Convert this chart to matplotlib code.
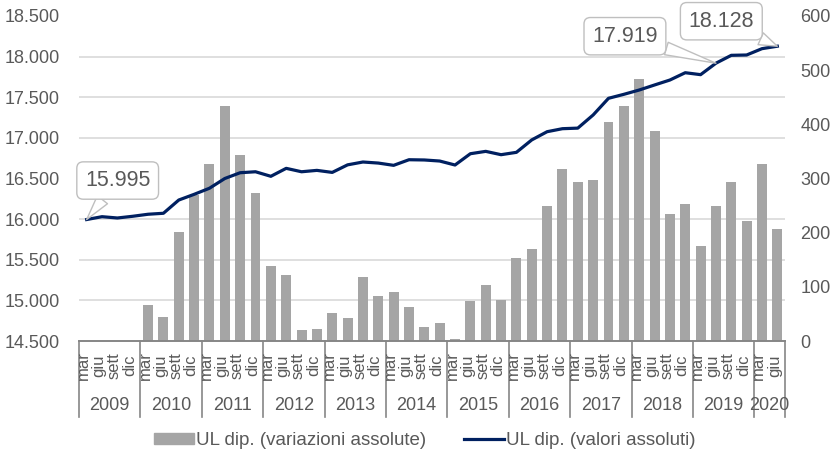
#UL dip. - variazioni assolute (barre) e valori assoluti (linea), trimestrale 2009-2020
import matplotlib
matplotlib.use('Agg')
import matplotlib.pyplot as plt
import matplotlib.transforms as mtransforms
from matplotlib.patches import Patch
from matplotlib.lines import Line2D
import numpy as np

plt.rcParams['font.family'] = ['Liberation Sans', 'DejaVu Sans']

years = ['2009', '2010', '2011', '2012', '2013', '2014', '2015', '2016', '2017', '2018', '2019', '2020']
quarters = ['mar', 'giu', 'sett', 'dic']
n_quarters_last = 2

variazioni = [np.nan, np.nan, np.nan, np.nan,
              66, 45, 201, 270,
              326, 434, 343, 274,
              138, 121, 20, 22,
              51, 42, 118, 83,
              90, 63, 25, 33,
              4, 73, 103, 76,
              153, 170, 250, 317,
              294, 297, 404, 434,
              484, 388, 235, 252,
              176, 249, 293, 222,
              327, 207]

valori = [15995, 16030, 16014, 16035,
          16060, 16072, 16235, 16305,
          16380, 16500, 16571, 16583,
          16527, 16625, 16583, 16600,
          16575, 16668, 16703, 16690,
          16662, 16731, 16728, 16715,
          16666, 16805, 16834, 16793,
          16822, 16975, 17076, 17113,
          17120, 17282, 17487, 17536,
          17589, 17651, 17712, 17802,
          17778, 17919, 18016, 18020,
          18098, 18128]

labelled = [0, 41, 45]

grey_txt = '#595959'
bar_col = '#a5a5a5'
line_col = '#002060'
fs = 13

cat_labels = []
for y in years[:-1]:
    cat_labels += quarters
cat_labels += quarters[:n_quarters_last]
x = np.arange(len(cat_labels))

fig = plt.figure(figsize=(8.31, 4.57), dpi=100)
ax1 = fig.add_axes([79/831, 116/457, 706/831, 325/457])
ax2 = ax1.twinx()

# bars (right axis)
ax1.bar(x, variazioni, width=0.65, color=bar_col, zorder=2)
ax1.set_ylim(0, 600)
ax1.set_yticks(np.arange(0, 601, 100))
ax1.set_yticks(np.arange(0, 601, 75), minor=True)
ax1.yaxis.tick_right()
ax1.grid(True, which='minor', axis='y', color='#d9d9d9', linewidth=1.2, zorder=0)
ax1.tick_params(axis='y', which='both', length=0, labelsize=fs, labelcolor=grey_txt, pad=11)
ax1.set_xlim(-0.5, len(x) - 0.5)
ax1.set_xticks([])

# line (left axis)
ax2.plot(x, valori, color=line_col, linewidth=2.3, zorder=3)
ax2.set_ylim(14500, 18500)
ax2.set_yticks(np.arange(14500, 18501, 500))
ax2.set_yticklabels([f'{v:,.0f}'.replace(',', '.') for v in np.arange(14500, 18501, 500)])
ax2.yaxis.tick_left()
ax2.tick_params(axis='y', length=0, labelsize=fs, labelcolor=grey_txt, pad=14)

for ax in (ax1, ax2):
    for s in ['top', 'left', 'right']:
        ax.spines[s].set_visible(False)
    ax.spines['bottom'].set_color('#868686')
    ax.spines['bottom'].set_linewidth(1.2)

# callouts
offsets = {0: (31, 39), 41: (-91, 27), 45: (-56, 25)}
for i in labelled:
    ax2.annotate(f'{valori[i]:,.0f}'.replace(',', '.'), xy=(x[i], valori[i]),
                 xytext=offsets[i], textcoords='offset pixels',
                 ha='center', va='center', fontsize=15.5, color=grey_txt,
                 bbox=dict(boxstyle='round,pad=0.38,rounding_size=0.3', fc='white', ec='#bfbfbf', lw=1),
                 arrowprops=dict(arrowstyle='wedge,tail_width=0.6,shrink_factor=0.5',
                                 fc='white', ec='#bfbfbf', lw=1, shrinkA=0, shrinkB=0),
                 zorder=5)

# multi-level category axis
trans = mtransforms.blended_transform_factory(ax1.transData, ax1.transAxes)
for i, lab in enumerate(cat_labels):
    ax1.text(x[i] - 0.2, -0.075, lab, transform=trans, rotation=90, ha='center', va='center',
             fontsize=12, color=grey_txt)

start = 0
for k, yr in enumerate(years):
    n = 4 if k < len(years) - 1 else n_quarters_last
    ax1.plot([start - 0.5, start - 0.5], [0, -0.235], transform=trans, color='#868686',
             linewidth=1.2, clip_on=False)
    ax1.text(start + (n - 1) / 2, -0.2, yr, transform=trans, ha='center', va='center',
             fontsize=fs, color=grey_txt)
    start += n
ax1.plot([start - 0.5, start - 0.5], [0, -0.235], transform=trans, color='#868686',
         linewidth=1.2, clip_on=False)

# legend
handles = [Patch(color=bar_col), Line2D([0], [0], color=line_col, linewidth=2.3)]
labels = ['UL dip. (variazioni assolute)', 'UL dip. (valori assoluti)']
leg = fig.legend(handles, labels, loc='center', bbox_to_anchor=(0.511, 0.036), ncol=2,
                 frameon=False, fontsize=13.5, handlelength=2.15, handleheight=0.5,
                 handletextpad=0.12, columnspacing=2.0)
for t in leg.get_texts():
    t.set_color(grey_txt)

fig.savefig('out.png', dpi=100)
